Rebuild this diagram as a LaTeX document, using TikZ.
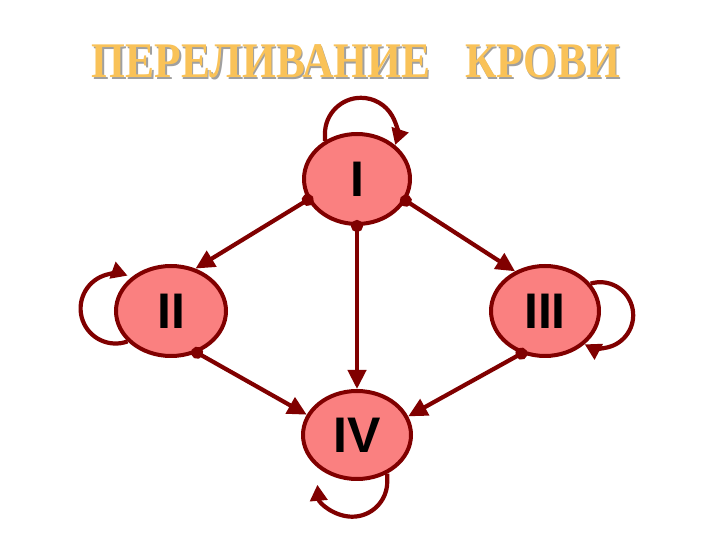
\documentclass[tikz,border=0pt]{standalone}
\usepackage{graphicx}
\usepackage{fontspec}
\setmainfont{Liberation Serif}
\newfontfamily\numfont{Liberation Sans}
\usetikzlibrary{arrows.meta,shapes.geometric}
\definecolor{edgered}{RGB}{128,0,0}
\definecolor{nodefill}{RGB}{250,128,128}
\definecolor{titlegold}{RGB}{249,194,88}
\definecolor{titleshadow}{RGB}{160,160,160}
\begin{document}
\begin{tikzpicture}[x=1pt,y=1pt,
  state/.style={ellipse, draw=edgered, line width=4pt, fill=nodefill, inner sep=0pt,
    font=\numfont\bfseries\fontsize{50}{50}\selectfont},
  link/.style={draw=edgered, line width=4.2pt, shorten <=-6pt,
    {Circle[length=12pt]}-{Triangle[length=19pt,width=18pt]}},
  selfloop/.style={draw=edgered, line width=4.2pt, -{Triangle[length=16pt,width=17pt]}},
  titletext/.style={inner sep=0pt}]
\useasboundingbox[fill=white] (0,0) rectangle (720,540);
% title
\node[titletext, text=titleshadow] (tshadow) at (357.3,477.2) {\resizebox{528pt}{33pt}{\bfseries ПЕРЕЛИВАНИЕ\hspace{0.8em}КРОВИ}};
\node[titletext, text=titlegold] (title) at (356,478.5) {\resizebox{528pt}{33pt}{\bfseries ПЕРЕЛИВАНИЕ\hspace{0.8em}КРОВИ}};
% nodes
\node[state, minimum width=106pt, minimum height=90pt] (I) at (357,361) {I};
\node[state, minimum width=110pt, minimum height=90pt] (II) at (171,229) {II};
\node[state, minimum width=108pt, minimum height=90pt] (III) at (545,229) {III};
\node[state, minimum width=108pt, minimum height=88pt] (IV) at (357,105) {IV};
% links
\draw[link] (I.203) -- (II.60);
\draw[link] (I.336) -- (III.127);
\draw[link] (I.270) -- (IV.90);
\draw[link] (II.302) -- (IV.158);
\draw[link] (III.241) -- (IV.20);
% self loops
\draw[selfloop] (I.130) -- ++(0,7) arc[start angle=180, end angle=-18, radius=36];
\draw[selfloop] (II.215) arc[start angle=-70, end angle=-290, radius=35];
\draw[selfloop] (III.31) arc[start angle=107, end angle=-118, radius=33];
\draw[selfloop] (IV.-52) -- ++(0,-8) arc[start angle=0, end angle=-175, radius=35];
\end{tikzpicture}
\end{document}
